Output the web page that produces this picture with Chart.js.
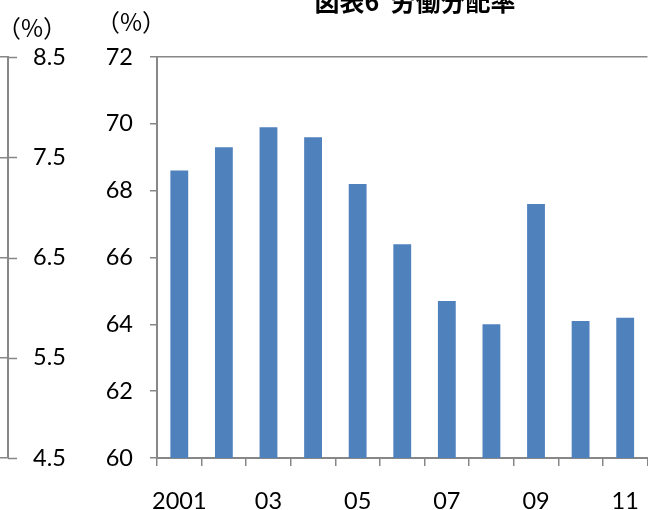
<!DOCTYPE html>
<html>
<head>
<meta charset="utf-8">
<script src="https://cdn.jsdelivr.net/npm/chart.js@4.4.1/dist/chart.umd.min.js"></script>
<style>
  html, body { margin: 0; padding: 0; background: #fff; }
  #wrap { width: 648px; height: 510px; overflow: hidden; position: relative; }
  canvas { display: block; }
</style>
</head>
<body>
<div id="wrap"><canvas id="chart" width="660" height="530"></canvas></div>
<script>
// Labour share by fiscal year (%)
const years = ['2001', '02', '03', '04', '05', '06', '07', '08', '09', '10', '11'];
const laborShare = [68.6, 69.3, 69.9, 69.6, 68.2, 66.4, 64.7, 64.0, 67.6, 64.1, 64.2];
// outer (left) axis ticks
const outerTicks = [4.5, 5.5, 6.5, 7.5, 8.5];
const chartTitle = '図表6  労働分配率';
const unitLabel = '（%）';

const axisGrey = '#878787';
const barBlue = '#4f81bd';
const tickFont = { family: 'Lato', size: 23.5 };

// title, unit labels and the crossing tick marks on the outer axis
const overlayText = {
  id: 'overlayText',
  afterDraw(chart) {
    const { ctx, scales } = chart;
    ctx.save();
    ctx.fillStyle = '#000';
    ctx.textAlign = 'center';
    ctx.textBaseline = 'middle';
    ctx.font = 'bold 25px "Noto Sans CJK JP"';
    ctx.fillText(chartTitle, 415, 1);
    ctx.font = '24px "Noto Sans CJK JP"';
    ctx.fillText(unitLabel, 32, 28);
    ctx.fillText(unitLabel, 131, 22);

    const s = scales.y2;
    ctx.strokeStyle = axisGrey;
    ctx.lineWidth = 1.5;
    s.ticks.forEach(t => {
      const py = Math.round(s.getPixelForValue(t.value)) + 0.5;
      ctx.beginPath();
      ctx.moveTo(s.right, py);
      ctx.lineTo(s.right + 9, py);
      ctx.stroke();
    });
    ctx.restore();
  }
};

const ctx = document.getElementById('chart').getContext('2d');
new Chart(ctx, {
  type: 'bar',
  data: {
    labels: years,
    datasets: [{
      data: laborShare,
      backgroundColor: barBlue,
      yAxisID: 'y',
      barPercentage: 0.4,
      categoryPercentage: 1
    }]
  },
  options: {
    responsive: false,
    animation: false,
    devicePixelRatio: 1,
    layout: { padding: { top: 57, right: 4, left: 0, bottom: 0 } },
    plugins: {
      legend: { display: false },
      tooltip: { enabled: false },
      title: { display: false }
    },
    scales: {
      x: {
        grid: {
          offset: true,
          drawOnChartArea: false,
          tickLength: 8,
          color: axisGrey,
          lineWidth: 1.5
        },
        border: { color: axisGrey, width: 2 },
        ticks: {
          autoSkip: false,
          maxRotation: 0,
          padding: 21,
          color: '#000',
          font: tickFont,
          callback: (v, i) => (i % 2 === 0 ? years[i] : '')
        },
        afterFit: s => { s.height = 72; }
      },
      y: {
        position: 'left',
        weight: 0,
        min: 60,
        max: 72,
        grid: {
          color: c => (c.tick && c.tick.value === 72 ? axisGrey : 'transparent'),
          tickColor: axisGrey,
          tickLength: 7,
          lineWidth: 1.5
        },
        border: { color: axisGrey, width: 2 },
        ticks: { stepSize: 2, padding: 17, color: '#000', font: tickFont },
        afterFit: s => { s.width = 149; }
      },
      y2: {
        position: 'left',
        weight: 1,
        min: 4.5,
        max: 8.5,
        grid: {
          drawOnChartArea: false,
          tickLength: 8,
          color: axisGrey,
          lineWidth: 1.5
        },
        border: { color: axisGrey, width: 2 },
        ticks: {
          mirror: true,
          padding: 25,
          color: '#000',
          font: tickFont,
          callback: v => v.toFixed(1)
        },
        afterBuildTicks: s => { s.ticks = outerTicks.map(v => ({ value: v })); },
        afterFit: s => { s.width = 8; }
      }
    }
  },
  plugins: [overlayText]
});
</script>
</body>
</html>
